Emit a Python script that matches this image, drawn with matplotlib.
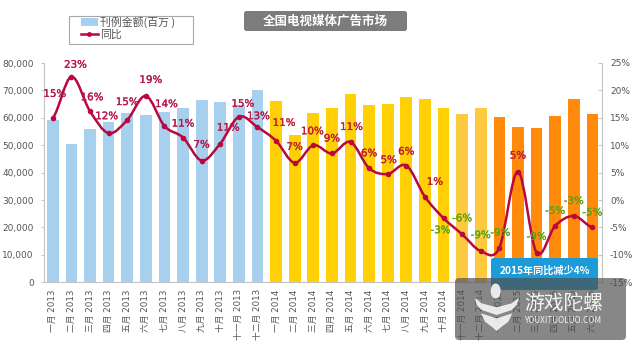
import matplotlib
matplotlib.use("Agg")
import matplotlib.pyplot as plt
import matplotlib.patheffects as pe
from matplotlib.patches import FancyBboxPatch, Rectangle, Patch, PathPatch, Ellipse, Polygon
from matplotlib.lines import Line2D
from matplotlib.path import Path
from matplotlib.ticker import FuncFormatter

plt.rcParams['font.family'] = ['DejaVu Sans', 'Noto Sans CJK SC']

months = ['一月', '二月', '三月', '四月', '五月', '六月', '七月', '八月', '九月', '十月', '十一月', '十二月']
categories = [f'{m} 2013' for m in months] + [f'{m} 2014' for m in months] + [f'{m} 2015' for m in months[:6]]
amounts = [59200, 50300, 56000, 58500, 61900, 60900, 62100, 63500, 66500, 65800, 64500, 70000,
           66100, 53900, 61900, 63700, 68600, 64600, 65000, 67600, 67000, 63700, 61400, 63700,
           60300, 56600, 56200, 60700, 66800, 61300]
yoy = [15.0, 22.5, 16.2, 12.2, 14.6, 19.0, 13.5, 11.4, 7.2, 10.3, 15.2, 13.3,
       10.8, 6.8, 10.0, 8.5, 10.6, 5.8, 4.75, 6.3, 0.6, -3.3, -6.25, -9.3,
       -8.7, 5.2, -9.6, -4.7, -2.9, -5.0]
yoy_labels = ['15%', '23%', '16%', '12%', '15%', '19%', '14%', '11%', '7%', '11%', '15%', '13%',
              '11%', '7%', '10%', '9%', '11%', '6%', '5%', '6%', '1%', '-3%', '-6%', '-9%',
              '-9%', '5%', '-9%', '-5%', '-3%', '-5%']
# label offsets from each point, in pixels (style, not data)
label_dx = [2, 4, 2, -2, 0, 5, 2, 0, 0, 8, 4, 1, 8, 0, -1, 0, 1, 0, 1, 0, 10, -3, 0, 0, 1, 0, 0, 0, 0, 0]
label_dy = [24, 12, 14, 17, 18, 16, 22, 14, 16, 16, 13, 11, 18, 16, 14, 15, 15, 15, 14, 14, 15, -12, 16, 16, 15, 16, 16, 15, 15, 15]

BLUE, YELLOW, PALE, ORANGE = '#a7d0ef', '#ffd105', '#fdc93f', '#ff8a0c'
bar_colors = [BLUE] * 12 + [YELLOW] * 9 + [YELLOW, PALE, PALE] + [ORANGE] * 6
LINE = '#b8083c'

W, H = 640, 350
fig = plt.figure(figsize=(W / 100, H / 100), dpi=100, facecolor='white')
L, R, T, B = 43.5, 601.7, 63.0, 282.3
ax = fig.add_axes([L / W, 1 - B / H, (R - L) / W, (B - T) / H])
x = list(range(len(categories)))
ax.bar(x, amounts, width=0.63, color=bar_colors, linewidth=0)
ax.set_xlim(-0.5, 29.5)
ax.set_ylim(0, 80000)
ax.set_yticks(range(0, 80001, 10000))
ax.yaxis.set_major_formatter(FuncFormatter(lambda v, _: f'{int(v):,}'))
ax.set_xticks(x)
ax.set_xticklabels(categories, rotation=90, fontsize=6.3, color='#555555')
ax.tick_params(axis='x', length=0, pad=5)
ax.tick_params(axis='y', length=2, width=0.7, color='#c4c4c4', labelsize=6.5, labelcolor='#555555', pad=5)
for s in ['top', 'right']:
    ax.spines[s].set_visible(False)
for s in ['left', 'bottom']:
    ax.spines[s].set_color('#c4c4c4')
    ax.spines[s].set_linewidth(0.8)

ax2 = ax.twinx()
ax2.set_ylim(-15, 25)
ax2.set_yticks(range(-15, 26, 5))
ax2.yaxis.set_major_formatter(FuncFormatter(lambda v, _: f'{int(v)}%'))
ax2.tick_params(axis='y', direction='in', length=3, width=0.7, color='#c4c4c4', labelsize=6.5, labelcolor='#555555', pad=6)
for s in ['top', 'left', 'bottom']:
    ax2.spines[s].set_visible(False)
ax2.spines['right'].set_color('#c4c4c4')
ax2.spines['right'].set_linewidth(0.8)

# Excel-style smoothed line through the points
verts = [(x[0], yoy[0])]
codes = [Path.MOVETO]
n = len(x)
for i in range(n - 1):
    p0 = yoy[max(i - 1, 0)]
    p1, p2 = yoy[i], yoy[i + 1]
    p3 = yoy[min(i + 2, n - 1)]
    verts += [(x[i] + 1 / 3, p1 + (p2 - p0) / 6), (x[i + 1] - 1 / 3, p2 - (p3 - p1) / 6), (x[i + 1], p2)]
    codes += [Path.CURVE4] * 3
ax2.add_patch(PathPatch(Path(verts, codes), fc='none', ec=LINE, lw=1.8, zorder=3))
ax2.plot(x, yoy, ls='none', marker='o', ms=3, color=LINE, zorder=4)

for i, (v, lab) in enumerate(zip(yoy, yoy_labels)):
    if lab.startswith('-'):
        col = '#5ca313'
    elif i < 12:
        col = '#b5174d'
    else:
        col = '#bf1f2e'
    t = ax2.annotate(lab, (x[i], v), xytext=(label_dx[i], label_dy[i]), textcoords='offset pixels',
                     ha='center', va='center', fontsize=7.4, color=col, zorder=5)
    t.set_path_effects([pe.withStroke(linewidth=0.2, foreground=col)])

handles = [Patch(fc=BLUE, ec='none'),
           Line2D([], [], color=LINE, lw=1.8, marker='o', ms=2.5)]
leg = ax2.legend(handles, ['刊例金额(百万 )', '同比'], loc='upper left',
                 bbox_to_anchor=(81 / W, 1 - 16 / H), bbox_transform=fig.transFigure,
                 borderaxespad=0, fontsize=7.8, frameon=False,
                 handlelength=1.55, handletextpad=0.25, labelspacing=0.2, borderpad=0)
for t in leg.get_texts():
    t.set_color('#555555')
    t.set_family(['Noto Sans CJK SC', 'DejaVu Sans'])

# overlay in pixel coordinates for the title badge, callout and watermark
ov = fig.add_axes([0, 0, 1, 1], zorder=10)
ov.set_xlim(0, W)
ov.set_ylim(H, 0)
ov.axis('off')
ov.patch.set_alpha(0)
ov.add_patch(Rectangle((68.5, 15.5), 124, 28, fc='none', ec='#a8a8a8', lw=0.8))

def badge(x0, y0, x1, y1, fc, r=2.5, alpha=1.0):
    ov.add_patch(FancyBboxPatch((x0 + r, y0 + r), x1 - x0 - 2 * r, y1 - y0 - 2 * r,
                                boxstyle=f'round,pad={r}', fc=fc, ec='none', alpha=alpha))

CJK = ['Noto Sans CJK SC', 'DejaVu Sans']
badge(244, 11, 407, 31, '#7c7c7c')
ov.text(325, 21, '全国电视媒体广告市场', color='white', fontsize=9, fontweight='bold',
        ha='center', va='center', family=CJK)
badge(491, 258, 598, 290, '#1b9bd7')
ov.text(544.5, 271, '2015年同比减少4%', color='white', fontsize=7.3, fontweight='bold',
        ha='center', va='center', family=CJK)

badge(455, 278, 626, 340, '#4f4f4f', r=4, alpha=0.68)
wm = '#f4f4f4'

def logo(points, alpha=0.92):
    ov.add_patch(Polygon([(455 + a / 3, 275 + b / 3) for a, b in points], closed=True,
                         fc=wm, ec='none', alpha=alpha))

ov.add_patch(Ellipse((455 + 122 / 3, 275 + 48 / 3), 10, 15, fc=wm, ec='none', alpha=0.92))
logo([(60, 68), (80, 85), (125, 97), (170, 85), (192, 68), (185, 90), (170, 105), (125, 120), (80, 105), (65, 90)])
logo([(78, 115), (125, 130), (172, 115), (160, 140), (140, 155), (125, 168), (110, 155), (90, 140)])
ov.text(524, 303, '游戏陀螺', color=wm, fontsize=14.2, ha='left', va='center', family=CJK)
ov.text(524, 320.5, 'YOUXITUOLUO.COM', color=wm, fontsize=5.9, ha='left', va='center', family=CJK)

fig.savefig('out.png', dpi=100, facecolor='white')
